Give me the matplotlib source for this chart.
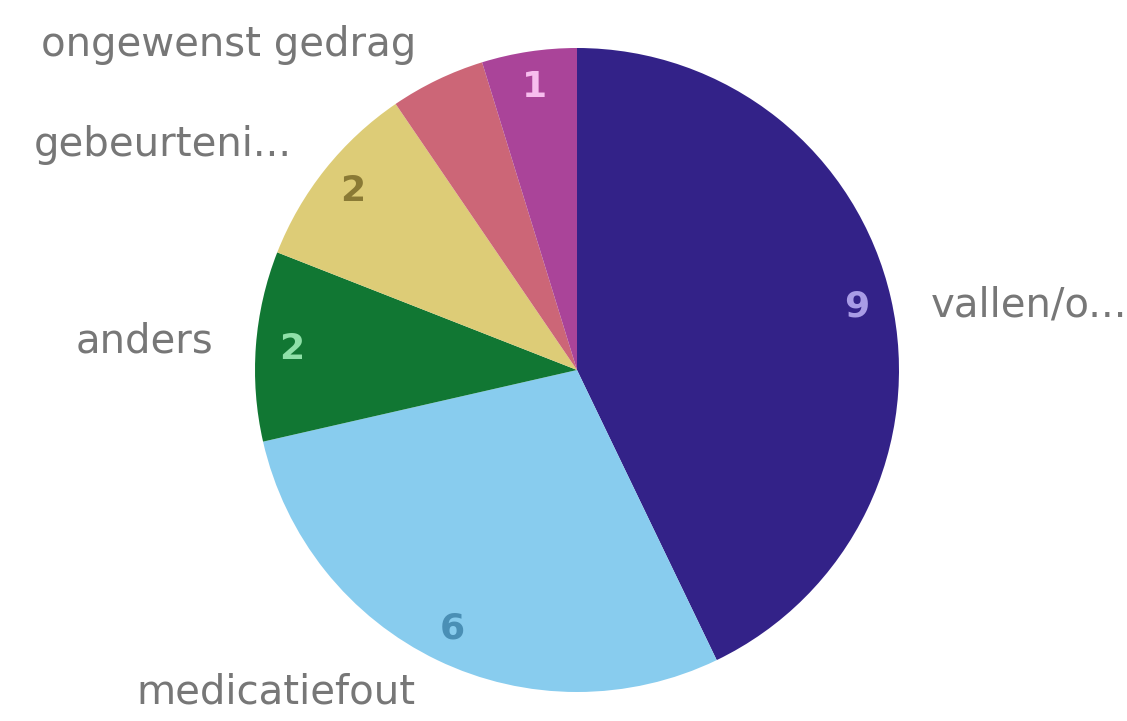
import matplotlib

matplotlib.use("Agg")
import matplotlib.pyplot as plt

# incident categories and counts
categories = ["vallen/o...", "medicatiefout", "anders", "gebeurteni...",
              "ongewenst gedrag", ""]
counts = [9, 6, 2, 2, 1, 1]
slice_colors = ["#332288", "#88ccee", "#117733", "#ddcc77", "#cc6677", "#aa4499"]
value_colors = ["#a99ce6", "#4a8fb5", "#8fe0a8", "#8a7a35", None, "#f7bdee"]

# outer label anchors in pie-radius units: (x, y, ha)
label_anchor = [
    (1.10, 0.20, "left"),
    (-0.50, -1.00, "right"),
    (-1.13, 0.09, "right"),
    (-0.885, 0.70, "right"),
    (-0.50, 1.01, "right"),
    (0.0, 0.0, "left"),
]

CX, CY, R = 577, 370, 322
W, H = 1127, 721

fig = plt.figure(figsize=(W / 100, H / 100), dpi=100)
ax = fig.add_axes([0, 0, 1, 1])

wedges, _, autotexts = ax.pie(
    counts, colors=slice_colors, startangle=90, counterclock=False,
    radius=1.0, autopct=lambda p: f"{p * sum(counts) / 100:.0f}",
    pctdistance=0.89, wedgeprops={"linewidth": 0},
    textprops={"fontsize": 26, "fontweight": "bold", "family": "DejaVu Sans"},
)
ax.set_xlim(-CX / R, (W - CX) / R)
ax.set_ylim(-(H - CY) / R, CY / R)
ax.set_aspect("equal")
ax.axis("off")

for t, c in zip(autotexts, value_colors):
    if c is None:
        t.set_text("")
    else:
        t.set_color(c)

for name, (x, y, ha) in zip(categories, label_anchor):
    if name:
        ax.text(x, y, name, ha=ha, va="center", fontsize=29,
                color="#777777", family="DejaVu Sans")

fig.savefig("out.png", dpi=100, facecolor="white")
